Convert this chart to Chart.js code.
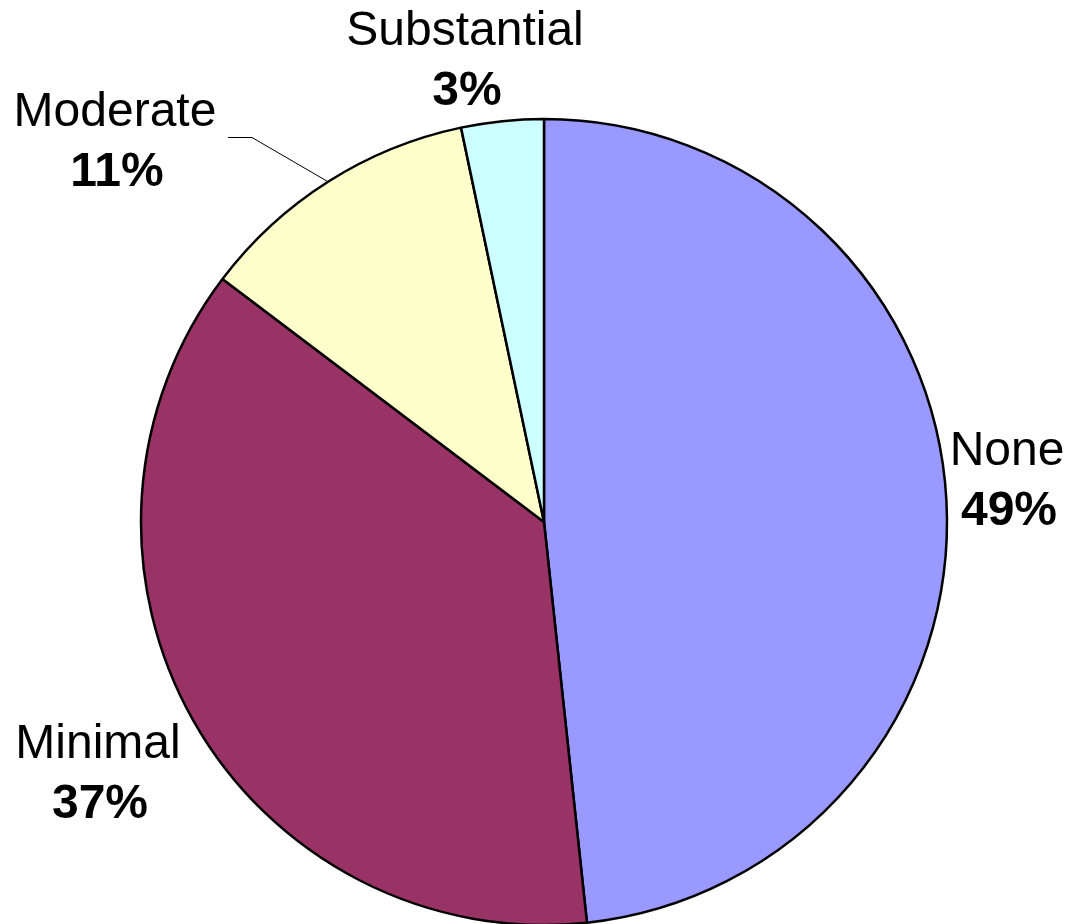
<!DOCTYPE html>
<html>
<head>
<meta charset="utf-8">
<script src="https://cdn.jsdelivr.net/npm/chart.js@4.4.1/dist/chart.umd.min.js"></script>
<style>
    html, body { margin: 0; padding: 0; background: #ffffff; }
    #wrap { width: 1068px; height: 924px; position: relative; }
</style>
</head>
<body>
<div id="wrap"><canvas id="pieChart"></canvas></div>
<script>
const categories = ['None', 'Minimal', 'Moderate', 'Substantial'];
const sliceValues = [48.3, 37.0, 11.4, 3.3];
const percentLabels = ['49%', '37%', '11%', '3%'];
const sliceColors = ['#9999ff', '#993366', '#ffffcc', '#ccffff'];

const FONT = "Arial, 'Liberation Sans', sans-serif";

// label block placement: [centre x, baseline of name line] in canvas pixels
const labelPlacement = {
    'None': [1007, 465],
    'Minimal': [98, 758],
    'Moderate': [115, 126],
    'Substantial': [465, 45]
};

const outsideLabels = {
    id: 'outsideLabels',
    afterDatasetsDraw(chart) {
        const ctx = chart.ctx;
        const arcs = chart.getDatasetMeta(0).data;
        ctx.save();

        // leader line for Moderate, ending on the middle of its arc
        const mod = arcs[categories.indexOf('Moderate')];
        if (mod) {
            const mid = (mod.startAngle + mod.endAngle) / 2;
            const ex = mod.x + Math.cos(mid) * mod.outerRadius;
            const ey = mod.y + Math.sin(mid) * mod.outerRadius;
            ctx.strokeStyle = '#000';
            ctx.lineWidth = 1;
            ctx.beginPath();
            ctx.moveTo(228, 137.5);
            ctx.lineTo(252, 137.5);
            ctx.lineTo(ex, ey);
            ctx.stroke();
        }

        ctx.fillStyle = '#000';
        ctx.textAlign = 'center';
        ctx.textBaseline = 'alphabetic';
        categories.forEach((name, i) => {
            const [x, y] = labelPlacement[name];
            ctx.font = '48px ' + FONT;
            ctx.fillText(name, x, y);
            ctx.font = 'bold 48px ' + FONT;
            ctx.fillText(percentLabels[i], x + 2, y + 60);
        });
        ctx.restore();
    }
};

new Chart(document.getElementById('pieChart'), {
    type: 'pie',
    data: {
        labels: categories,
        datasets: [{
            data: sliceValues,
            backgroundColor: sliceColors,
            borderColor: '#000000',
            borderWidth: 2.5,
            borderJoinStyle: 'bevel'
        }]
    },
    options: {
        responsive: true,
        maintainAspectRatio: false,
        animation: false,
        radius: 403,
        layout: { padding: { left: 20, right: 0, top: 120, bottom: 0 } },
        plugins: {
            legend: { display: false },
            tooltip: { enabled: false }
        }
    },
    plugins: [outsideLabels]
});
</script>
</body>
</html>
